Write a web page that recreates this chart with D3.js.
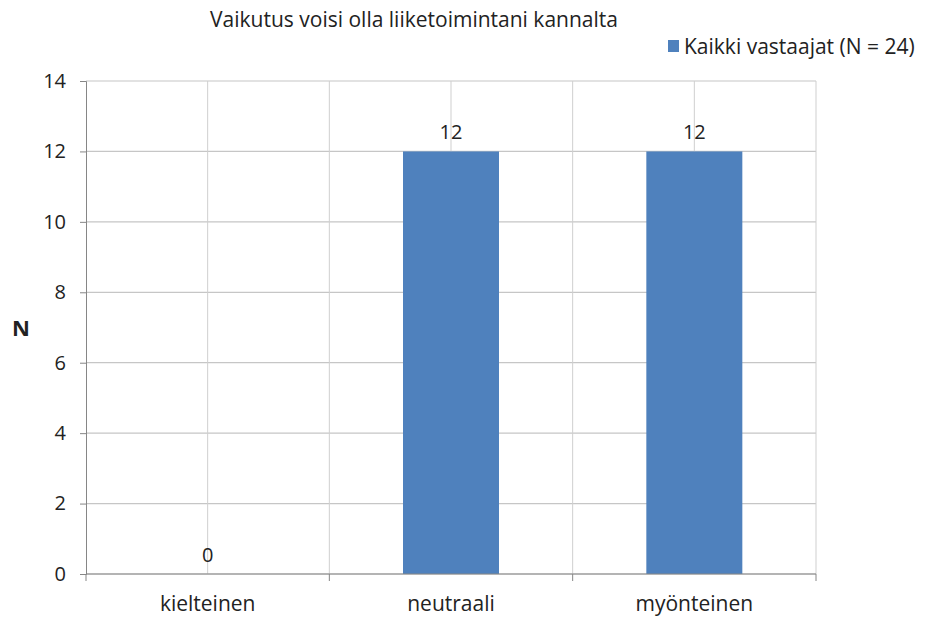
<!DOCTYPE html>
<html>
<head>
<meta charset="utf-8">
<script src="https://cdn.jsdelivr.net/npm/d3@7"></script>
<style>
  body { margin: 0; background: #fff; }
  text { font-family: "Open Sans", "Noto Sans", sans-serif; fill: #222; }
</style>
</head>
<body>
<div id="chart"></div>
<script>
// ---------------- data ----------------
const categories = ['kielteinen', 'neutraali', 'myönteinen'];
const values = [0, 12, 12];
const yTicks = [0, 2, 4, 6, 8, 10, 12, 14];
const seriesName = 'Kaikki vastaajat (N = 24)';
const chartTitle = 'Vaikutus voisi olla liiketoimintani kannalta';

const width = 926, height = 617;
const margin = { top: 81, right: 110, bottom: 43, left: 86 };
const innerW = width - margin.left - margin.right;
const innerH = height - margin.top - margin.bottom;
const fs = '20px';

const svg = d3.select('#chart')
    .append('svg')
    .attr('width', width)
    .attr('height', height);

const g = svg.append('g')
    .attr('transform', `translate(${margin.left},${margin.top})`);

const x = d3.scaleBand()
    .domain(categories)
    .range([0, innerW]);

const y = d3.scaleLinear()
    .domain([0, 14])
    .range([innerH, 0]);

// horizontal gridlines
g.selectAll('.hgrid')
    .data(yTicks)
    .enter()
    .append('line')
    .attr('x1', 0)
    .attr('x2', innerW)
    .attr('y1', d => y(d))
    .attr('y2', d => y(d))
    .style('stroke', '#c6c6c6')
    .style('stroke-width', 1.2);

// vertical gridlines: category edges and centres
const vLines = [];
categories.forEach(c => {
    vLines.push(x(c) + x.bandwidth() / 2);
    vLines.push(x(c) + x.bandwidth());
});
g.selectAll('.vgrid')
    .data(vLines)
    .enter()
    .append('line')
    .attr('x1', d => d)
    .attr('x2', d => d)
    .attr('y1', 0)
    .attr('y2', innerH)
    .style('stroke', '#cfcfcf')
    .style('stroke-width', 1);

// bars
const barW = 96;
g.selectAll('rect')
    .data(values)
    .enter()
    .append('rect')
    .attr('x', (d, i) => x(categories[i]) + x.bandwidth() / 2 - barW / 2)
    .attr('y', d => y(d))
    .attr('width', barW)
    .attr('height', d => innerH - y(d))
    .style('fill', '#4f81bd');

// value labels
g.selectAll('.val')
    .data(values)
    .enter()
    .append('text')
    .attr('x', (d, i) => x(categories[i]) + x.bandwidth() / 2)
    .attr('y', d => y(d) - 12)
    .attr('text-anchor', 'middle')
    .attr('font-size', fs)
    .text(d => d);

// y axis
const yAxis = g.append('g')
    .call(d3.axisLeft(y).tickValues(yTicks).tickSize(6).tickPadding(14));
yAxis.select('.domain').style('stroke', '#868686');
yAxis.selectAll('.tick line').style('stroke', '#868686');
yAxis.selectAll('.tick text')
    .attr('font-size', fs)
    .style('font-family', '"Open Sans", sans-serif')
    .style('fill', '#222');

// x axis
const xAxisG = g.append('g')
    .attr('transform', `translate(0,${innerH})`);
xAxisG.append('line')
    .attr('x1', 0).attr('x2', innerW)
    .style('stroke', '#868686');
const xTicksPos = [0].concat(categories.map(c => x(c) + x.bandwidth()));
xAxisG.selectAll('.xt')
    .data(xTicksPos)
    .enter()
    .append('line')
    .attr('x1', d => d).attr('x2', d => d)
    .attr('y1', 0).attr('y2', 7)
    .style('stroke', '#868686');
xAxisG.selectAll('.xl')
    .data(categories)
    .enter()
    .append('text')
    .attr('x', d => x(d) + x.bandwidth() / 2)
    .attr('y', 37)
    .attr('text-anchor', 'middle')
    .attr('font-size', '21px')
    .text(d => d);

// y axis title
svg.append('text')
    .attr('x', 21)
    .attr('y', 336)
    .attr('text-anchor', 'middle')
    .attr('font-size', '22px')
    .attr('font-weight', 'bold')
    .text('N');

// chart title
svg.append('text')
    .attr('x', 414)
    .attr('y', 27)
    .attr('text-anchor', 'middle')
    .attr('font-size', '21px')
    .text(chartTitle);

// legend
svg.append('rect')
    .attr('x', 668)
    .attr('y', 40)
    .attr('width', 11)
    .attr('height', 12)
    .style('fill', '#4f81bd');
svg.append('text')
    .attr('x', 684)
    .attr('y', 54)
    .attr('font-size', '21px')
    .text(seriesName);
</script>
</body>
</html>
